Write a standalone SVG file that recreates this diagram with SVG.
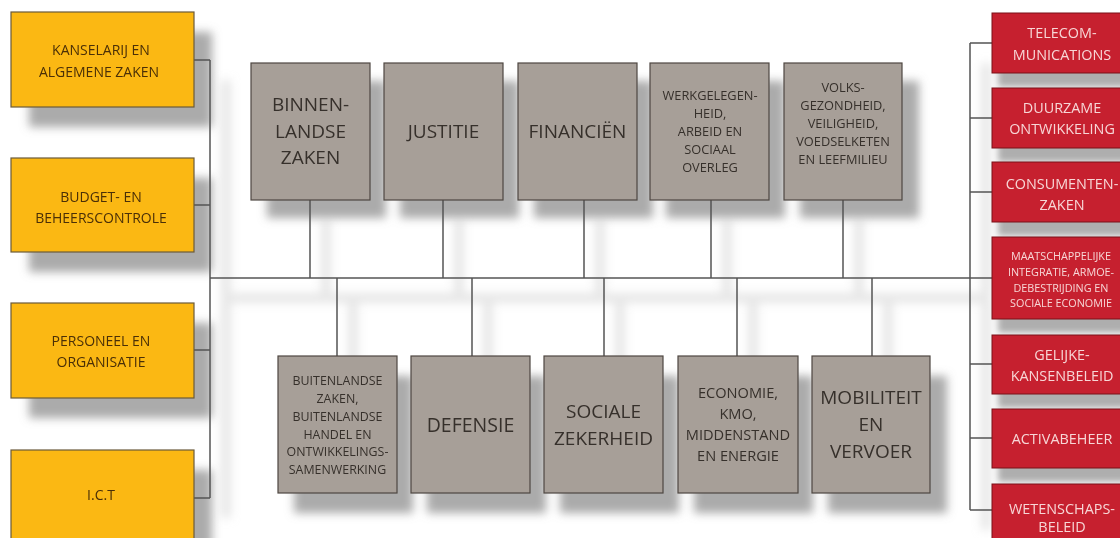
<svg xmlns="http://www.w3.org/2000/svg" width="1120" height="538" viewBox="0 0 1120 538">
<style>
  text { font-family: "Open Sans", "Noto Sans", "Liberation Sans", sans-serif; text-anchor: middle; }
  .yb { fill: #FBB813; stroke: #6b5a3a; stroke-width: 1.2; }
  .gb { fill: #A79F98; stroke: #4e4741; stroke-width: 1.2; }
  .rb { fill: #C6202F; stroke: #7a1018; stroke-width: 1; }
  .ty { fill: #4a2f07; font-size: 14px; }
  .tg { fill: #36302b; }
  .tr { fill: #F7D6D6; }
  .sh { fill: #8f8f8f; opacity: 0.75; }
  .rsh { fill: #9a9a9a; opacity: 0.8; }
  .ln { stroke: #545454; stroke-width: 1.5; fill: none; }
  .lnsh { stroke: #d4d4d4; stroke-width: 10; fill: none; opacity: 0.55; }
</style>
<defs>
  <filter id="blur" x="-30%" y="-30%" width="160%" height="160%"><feGaussianBlur stdDeviation="5"/></filter>
  <filter id="blur2" x="-30%" y="-30%" width="160%" height="160%"><feGaussianBlur stdDeviation="3"/></filter>
</defs>
<rect width="1120" height="538" fill="#ffffff"/>

<!-- connector shadows -->
<g id="connector-shadows" filter="url(#blur)" transform="translate(16,20)">
  <path class="lnsh" d="M210 60V498M210 278H970M310 200V278M443 200V278M584 200V278M711 200V278M843 200V278M337 278V356M472 278V356M604 278V356M737 278V356M872 278V356M970 43V510"/>
</g>

<!-- box shadows -->
<g id="shadows" filter="url(#blur)">
  <rect class="sh" x="29" y="32" width="183" height="95"/>
  <rect class="sh" x="29" y="178" width="183" height="94"/>
  <rect class="sh" x="29" y="323" width="183" height="95"/>
  <rect class="sh" x="29" y="470" width="183" height="95"/>
  <rect class="sh" x="267" y="81" width="119" height="137"/>
  <rect class="sh" x="400" y="81" width="119" height="137"/>
  <rect class="sh" x="534" y="81" width="119" height="137"/>
  <rect class="sh" x="666" y="81" width="119" height="137"/>
  <rect class="sh" x="800" y="81" width="119" height="137"/>
  <rect class="sh" x="294" y="376" width="119" height="137"/>
  <rect class="sh" x="427" y="376" width="119" height="137"/>
  <rect class="sh" x="560" y="376" width="119" height="137"/>
  <rect class="sh" x="694" y="376" width="119" height="137"/>
  <rect class="sh" x="828" y="376" width="119" height="137"/>
</g>
<g id="red-shadows" filter="url(#blur2)">
  <rect class="rsh" x="998" y="27" width="140" height="60"/>
  <rect class="rsh" x="998" y="102" width="140" height="60"/>
  <rect class="rsh" x="998" y="176" width="140" height="60"/>
  <rect class="rsh" x="998" y="251" width="140" height="82"/>
  <rect class="rsh" x="998" y="349" width="140" height="59"/>
  <rect class="rsh" x="998" y="423" width="140" height="59"/>
  <rect class="rsh" x="998" y="498" width="140" height="60"/>
</g>

<!-- connectors -->
<g id="connectors">
  <path class="ln" d="M194 60H210M194 205H210M194 350H210M194 498H210M210 60V498"/>
  <path class="ln" d="M210 278H992"/>
  <path class="ln" d="M310 200V278M443 200V278M584 200V278M711 200V278M843 200V278"/>
  <path class="ln" d="M337 278V356M472 278V356M604 278V356M737 278V356M872 278V356"/>
  <path class="ln" d="M970 43V510M970 43H992M970 118H992M970 192H992M970 364H992M970 438H992M970 510H992"/>
</g>

<!-- left column -->
<g id="kanselarij">
  <rect class="yb" x="11" y="12" width="183" height="95"/>
  <text class="ty" x="101" y="55">KANSELARIJ EN</text>
  <text class="ty" x="99" y="77">ALGEMENE ZAKEN</text>
</g>
<g id="budget">
  <rect class="yb" x="11" y="158" width="183" height="94"/>
  <text class="ty" x="101" y="202">BUDGET- EN</text>
  <text class="ty" x="101" y="223">BEHEERSCONTROLE</text>
</g>
<g id="personeel">
  <rect class="yb" x="11" y="303" width="183" height="95"/>
  <text class="ty" x="101" y="346">PERSONEEL EN</text>
  <text class="ty" x="101" y="367">ORGANISATIE</text>
</g>
<g id="ict">
  <rect class="yb" x="11" y="450" width="183" height="95"/>
  <text class="ty" x="101" y="500">I.C.T</text>
</g>

<!-- top row -->
<g id="binnenlandse-zaken">
  <rect class="gb" x="251" y="63" width="119" height="137"/>
  <text class="tg" font-size="19" x="310.5" y="111">BINNEN-</text>
  <text class="tg" font-size="19" x="310.5" y="138">LANDSE</text>
  <text class="tg" font-size="19" x="310.5" y="164">ZAKEN</text>
</g>
<g id="justitie">
  <rect class="gb" x="384" y="63" width="119" height="137"/>
  <text class="tg" font-size="19" x="443.5" y="138">JUSTITIE</text>
</g>
<g id="financien">
  <rect class="gb" x="518" y="63" width="119" height="137"/>
  <text class="tg" font-size="19" x="577.5" y="138">FINANCIËN</text>
</g>
<g id="werkgelegenheid">
  <rect class="gb" x="650" y="63" width="119" height="137"/>
  <text class="tg" font-size="12.8" x="710" y="100">WERKGELEGEN-</text>
  <text class="tg" font-size="12.8" x="710" y="118">HEID,</text>
  <text class="tg" font-size="12.8" x="710" y="136">ARBEID EN</text>
  <text class="tg" font-size="12.8" x="710" y="154">SOCIAAL</text>
  <text class="tg" font-size="12.8" x="710" y="171.5">OVERLEG</text>
</g>
<g id="volksgezondheid">
  <rect class="gb" x="784" y="63" width="118" height="137"/>
  <text class="tg" font-size="12.8" x="843" y="92">VOLKS-</text>
  <text class="tg" font-size="12.8" x="843" y="110">GEZONDHEID,</text>
  <text class="tg" font-size="12.8" x="843" y="128">VEILIGHEID,</text>
  <text class="tg" font-size="12.8" x="843" y="146">VOEDSELKETEN</text>
  <text class="tg" font-size="12.8" x="843" y="163.5">EN LEEFMILIEU</text>
</g>

<!-- bottom row -->
<g id="buitenlandse-zaken">
  <rect class="gb" x="278" y="356" width="119" height="137"/>
  <text class="tg" font-size="12.4" x="337.5" y="385">BUITENLANDSE</text>
  <text class="tg" font-size="12.4" x="337.5" y="403">ZAKEN,</text>
  <text class="tg" font-size="12.4" x="337.5" y="421">BUITENLANDSE</text>
  <text class="tg" font-size="12.4" x="337.5" y="438.5">HANDEL EN</text>
  <text class="tg" font-size="12.4" x="337.5" y="456">ONTWIKKELINGS-</text>
  <text class="tg" font-size="12.4" x="337.5" y="474">SAMENWERKING</text>
</g>
<g id="defensie">
  <rect class="gb" x="411" y="356" width="119" height="137"/>
  <text class="tg" font-size="19.5" x="470.5" y="431.5">DEFENSIE</text>
</g>
<g id="sociale-zekerheid">
  <rect class="gb" x="544" y="356" width="119" height="137"/>
  <text class="tg" font-size="19" x="603.5" y="418">SOCIALE</text>
  <text class="tg" font-size="19" x="603.5" y="445">ZEKERHEID</text>
</g>
<g id="economie">
  <rect class="gb" x="678" y="356" width="120" height="137"/>
  <text class="tg" font-size="14.6" x="738" y="398">ECONOMIE,</text>
  <text class="tg" font-size="14.6" x="738" y="419">KMO,</text>
  <text class="tg" font-size="14.6" x="738" y="440">MIDDENSTAND</text>
  <text class="tg" font-size="14.6" x="738" y="461">EN ENERGIE</text>
</g>
<g id="mobiliteit">
  <rect class="gb" x="812" y="356" width="118" height="137"/>
  <text class="tg" font-size="19" x="871" y="404">MOBILITEIT</text>
  <text class="tg" font-size="19" x="871" y="431">EN</text>
  <text class="tg" font-size="19" x="871" y="458">VERVOER</text>
</g>

<!-- right column -->
<g id="telecommunications">
  <rect class="rb" x="992" y="13" width="140" height="60"/>
  <text class="tr" font-size="14.4" x="1062" y="38">TELECOM-</text>
  <text class="tr" font-size="14.4" x="1062" y="59.5">MUNICATIONS</text>
</g>
<g id="duurzame-ontwikkeling">
  <rect class="rb" x="992" y="88" width="140" height="60"/>
  <text class="tr" font-size="14.4" x="1062" y="113">DUURZAME</text>
  <text class="tr" font-size="14.4" x="1062" y="133.5">ONTWIKKELING</text>
</g>
<g id="consumentenzaken">
  <rect class="rb" x="992" y="162" width="140" height="60"/>
  <text class="tr" font-size="14.4" x="1062" y="188.5">CONSUMENTEN-</text>
  <text class="tr" font-size="14.4" x="1062" y="210">ZAKEN</text>
</g>
<g id="maatschappelijke-integratie">
  <rect class="rb" x="992" y="237" width="140" height="82"/>
  <text class="tr" font-size="10.8" x="1061" y="260">MAATSCHAPPELIJKE</text>
  <text class="tr" font-size="10.8" x="1061" y="276">INTEGRATIE, ARMOE-</text>
  <text class="tr" font-size="10.8" x="1061" y="292">DEBESTRIJDING EN</text>
  <text class="tr" font-size="10.8" x="1061" y="307">SOCIALE ECONOMIE</text>
</g>
<g id="gelijke-kansenbeleid">
  <rect class="rb" x="992" y="335" width="140" height="59"/>
  <text class="tr" font-size="14.4" x="1062" y="360">GELIJKE-</text>
  <text class="tr" font-size="14.4" x="1062" y="381">KANSENBELEID</text>
</g>
<g id="activabeheer">
  <rect class="rb" x="992" y="409" width="140" height="59"/>
  <text class="tr" font-size="14.4" x="1062" y="444">ACTIVABEHEER</text>
</g>
<g id="wetenschapsbeleid">
  <rect class="rb" x="992" y="484" width="140" height="60"/>
  <text class="tr" font-size="14.4" x="1062" y="514">WETENSCHAPS-</text>
  <text class="tr" font-size="14.4" x="1062" y="532">BELEID</text>
</g>
</svg>
